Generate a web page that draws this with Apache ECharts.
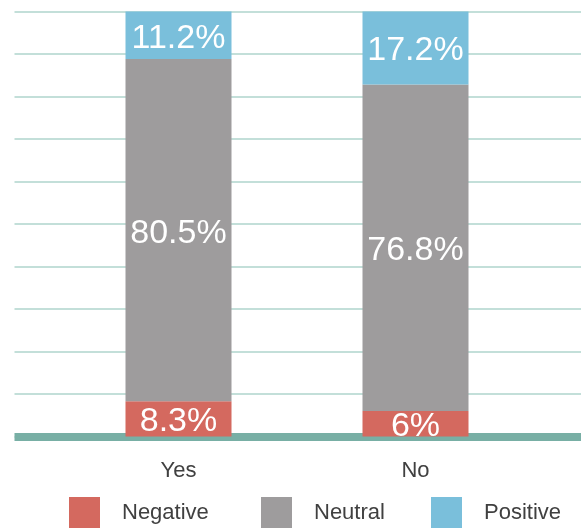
<!DOCTYPE html>
<html>
<head>
<meta charset="utf-8">
<script src="https://cdn.jsdelivr.net/npm/echarts@6/dist/echarts.min.js"></script>
<style>
  html, body { margin: 0; padding: 0; background: #fff; }
  #main { width: 581px; height: 529px; }
</style>
</head>
<body>
<div id="main"></div>
<script>
// answers and sentiment shares (percent)
const categories = ['Yes', 'No'];
const negative = [8.3, 6];
const neutral = [80.5, 76.8];
const positive = [11.2, 17.2];

const seriesNames = ['Negative', 'Neutral', 'Positive'];
const seriesColors = ['#d4695f', '#9e9c9d', '#7abfdb'];

const font = '"Liberation Sans Narrow", "Liberation Sans", sans-serif';

let chart = echarts.init(document.getElementById('main'));

function barSeries (name, values, color) {
  return {
    name: name,
    type: 'bar',
    stack: 'total',
    xAxisIndex: 1,
    yAxisIndex: 1,
    barWidth: 106,
    data: values,
    itemStyle: { color: color },
    label: {
      show: true,
      position: 'inside',
      offset: [0, 3],
      color: '#fff',
      fontFamily: font,
      fontSize: 34,
      formatter: p => p.value + '%'
    }
  };
}

// one legend per entry so each sits where the reference has it
const legendLeft = [69, 261, 431];
const legends = seriesNames.map((n, i) => ({
  data: [n],
  left: legendLeft[i],
  top: 497,
  padding: 0,
  itemWidth: 31,
  itemHeight: 31,
  itemGap: 0,
  icon: 'rect',
  textStyle: { fontFamily: font, fontSize: 22, color: '#404040', padding: [0, 0, 0, 17] }
}));

chart.setOption({
  animation: false,
  legend: legends,
  grid: [
    // background grid: wide, only for split lines and baseline
    { left: 14.5, right: 0, top: 11.5, bottom: 92.5 },
    // bars
    { left: 60, width: 474, top: 11.5, bottom: 92.5 }
  ],
  xAxis: [
    {
      gridIndex: 0,
      type: 'category',
      data: categories,
      axisLine: { show: true, lineStyle: { color: '#78afa5', width: 8, cap: 'butt' } },
      axisTick: { show: false },
      axisLabel: { show: false }
    },
    {
      gridIndex: 1,
      type: 'category',
      data: categories,
      axisLine: { show: false },
      axisTick: { show: false },
      axisLabel: { margin: 23, fontFamily: font, fontSize: 22, color: '#404040' }
    }
  ],
  yAxis: [
    {
      gridIndex: 0,
      type: 'value',
      min: 0,
      max: 100,
      interval: 10,
      axisLabel: { show: false },
      axisLine: { show: false },
      axisTick: { show: false },
      splitLine: { lineStyle: { color: '#c3dfd9', width: 2 } }
    },
    {
      gridIndex: 1,
      type: 'value',
      min: 0,
      max: 100,
      show: false,
      splitLine: { show: false }
    }
  ],
  series: [
    barSeries(seriesNames[0], negative, seriesColors[0]),
    barSeries(seriesNames[1], neutral, seriesColors[1]),
    barSeries(seriesNames[2], positive, seriesColors[2])
  ]
});
</script>
</body>
</html>
